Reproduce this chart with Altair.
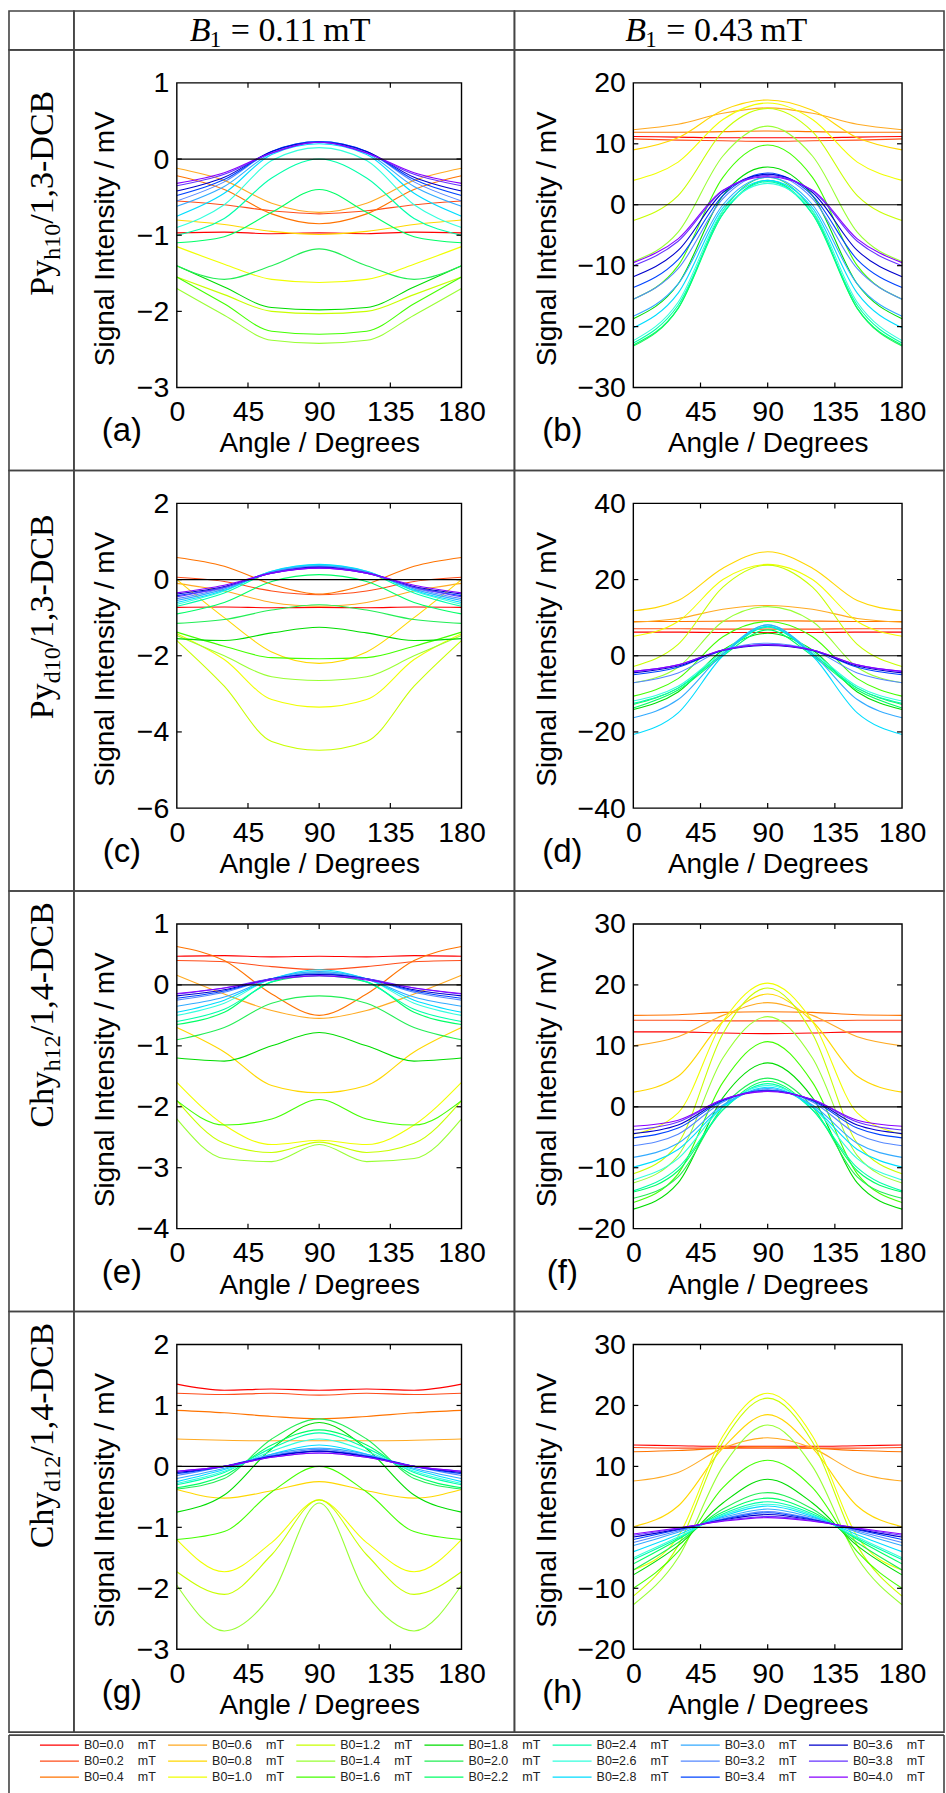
import altair as alt
import pandas as pd

# ---------------- data ----------------
ANGLES = [0, 30, 60, 90, 120, 150, 180]
B0 = ["0.0", "0.2", "0.4", "0.6", "0.8", "1.0", "1.2", "1.4", "1.6", "1.8", "2.0",
      "2.2", "2.4", "2.6", "2.8", "3.0", "3.2", "3.4", "3.6", "3.8", "4.0"]
COLORS = ["#ff0000", "#ff4d1a", "#ff7300", "#ffaa22", "#ffd700", "#f0ff00", "#c8ff00",
          "#99ff33", "#44ff00", "#00dd00", "#22ee55", "#00ff66", "#00ffaa", "#33ffdd",
          "#00ddff", "#33aaff", "#5588ff", "#0044ff", "#0000cc", "#6633ff", "#8800ff"]
XTICKS = [0, 45, 90, 135, 180]

A_VALUES = [
    [-0.97, -0.96, -0.98, -0.97, -0.98, -0.96, -0.97],
    [-0.55, -0.60, -0.68, -0.72, -0.68, -0.60, -0.55],
    [-0.22, -0.40, -0.72, -0.85, -0.72, -0.40, -0.22],
    [-0.12, -0.28, -0.58, -0.70, -0.58, -0.28, -0.12],
    [-0.80, -0.86, -0.95, -0.99, -0.95, -0.86, -0.80],
    [-1.15, -1.38, -1.58, -1.62, -1.58, -1.38, -1.15],
    [-1.55, -1.78, -2.00, -2.03, -2.00, -1.78, -1.55],
    [-1.70, -2.05, -2.38, -2.42, -2.38, -2.05, -1.70],
    [-1.55, -1.90, -2.26, -2.30, -2.26, -1.90, -1.55],
    [-1.40, -1.68, -1.95, -1.98, -1.95, -1.68, -1.40],
    [-1.40, -1.58, -1.40, -1.18, -1.40, -1.58, -1.40],
    [-1.10, -1.02, -0.70, -0.40, -0.70, -1.02, -1.10],
    [-1.00, -0.78, -0.25, 0.00, -0.25, -0.78, -1.00],
    [-0.90, -0.60, -0.02, 0.15, -0.02, -0.60, -0.90],
    [-0.75, -0.45, 0.06, 0.20, 0.06, -0.45, -0.75],
    [-0.62, -0.36, 0.08, 0.22, 0.08, -0.36, -0.62],
    [-0.55, -0.30, 0.10, 0.23, 0.10, -0.30, -0.55],
    [-0.48, -0.27, 0.10, 0.23, 0.10, -0.27, -0.48],
    [-0.42, -0.24, 0.10, 0.22, 0.10, -0.24, -0.42],
    [-0.35, -0.20, 0.08, 0.22, 0.08, -0.20, -0.35],
    [-0.32, -0.18, 0.08, 0.22, 0.08, -0.18, -0.32],
]
B_VALUES = [
    [11.2, 11.1, 11.0, 11.0, 11.0, 11.1, 11.2],
    [10.8, 10.6, 10.5, 10.4, 10.5, 10.6, 10.8],
    [11.9, 11.9, 12.0, 12.1, 12.0, 11.9, 11.9],
    [12.3, 13.2, 15.0, 15.9, 15.0, 13.2, 12.3],
    [9.0, 11.0, 15.5, 17.2, 15.5, 11.0, 9.0],
    [4.0, 7.0, 14.0, 16.7, 14.0, 7.0, 4.0],
    [-2.6, 1.5, 12.0, 15.8, 12.0, 1.5, -2.6],
    [-9.3, -4.5, 8.0, 12.9, 8.0, -4.5, -9.3],
    [-15.5, -10.0, 4.5, 9.8, 4.5, -10.0, -15.5],
    [-18.7, -13.0, 1.5, 6.2, 1.5, -13.0, -18.7],
    [-23.2, -17.0, -1.0, 4.5, -1.0, -17.0, -23.2],
    [-23.0, -17.0, -1.5, 4.0, -1.5, -17.0, -23.0],
    [-22.7, -16.5, -1.5, 3.8, -1.5, -16.5, -22.7],
    [-22.3, -16.0, -1.0, 3.5, -1.0, -16.0, -22.3],
    [-20.2, -14.5, -0.5, 4.0, -0.5, -14.5, -20.2],
    [-18.3, -13.0, 0.0, 4.5, 0.0, -13.0, -18.3],
    [-15.5, -10.5, 1.0, 5.0, 1.0, -10.5, -15.5],
    [-13.6, -9.0, 1.5, 5.2, 1.5, -9.0, -13.6],
    [-11.8, -7.5, 2.0, 5.0, 2.0, -7.5, -11.8],
    [-10.0, -6.0, 2.3, 4.8, 2.3, -6.0, -10.0],
    [-9.5, -5.6, 2.4, 4.6, 2.4, -5.6, -9.5],
]
C_VALUES = [
    [-0.73, -0.72, -0.74, -0.73, -0.74, -0.72, -0.73],
    [0.06, -0.05, -0.30, -0.40, -0.30, -0.05, 0.06],
    [0.58, 0.35, -0.12, -0.38, -0.12, 0.35, 0.58],
    [-0.10, -0.30, -0.60, -0.70, -0.60, -0.30, -0.10],
    [0.00, -1.00, -1.90, -2.20, -1.90, -1.00, 0.00],
    [-1.42, -2.10, -3.15, -3.35, -3.15, -2.10, -1.42],
    [-1.60, -2.80, -4.25, -4.48, -4.25, -2.80, -1.60],
    [-1.47, -2.00, -2.55, -2.65, -2.55, -2.00, -1.47],
    [-1.38, -1.75, -2.05, -2.08, -2.05, -1.75, -1.38],
    [-1.55, -1.60, -1.40, -1.25, -1.40, -1.60, -1.55],
    [-1.15, -1.05, -0.80, -0.66, -0.80, -1.05, -1.15],
    [-0.90, -0.60, -0.05, 0.13, -0.05, -0.60, -0.90],
    [-0.70, -0.35, 0.20, 0.38, 0.20, -0.35, -0.70],
    [-0.65, -0.30, 0.22, 0.38, 0.22, -0.30, -0.65],
    [-0.60, -0.28, 0.22, 0.40, 0.22, -0.28, -0.60],
    [-0.55, -0.25, 0.20, 0.36, 0.20, -0.25, -0.55],
    [-0.50, -0.22, 0.20, 0.35, 0.20, -0.22, -0.50],
    [-0.42, -0.20, 0.18, 0.33, 0.18, -0.20, -0.42],
    [-0.38, -0.18, 0.17, 0.32, 0.17, -0.18, -0.38],
    [-0.45, -0.20, 0.17, 0.30, 0.17, -0.20, -0.45],
    [-0.35, -0.15, 0.17, 0.30, 0.17, -0.15, -0.35],
]
D_VALUES = [
    [6.2, 6.2, 6.1, 6.1, 6.1, 6.2, 6.2],
    [7.1, 7.1, 7.0, 7.0, 7.0, 7.1, 7.1],
    [9.0, 9.0, 9.1, 9.2, 9.1, 9.0, 9.0],
    [8.8, 9.8, 12.2, 13.2, 12.2, 9.8, 8.8],
    [11.8, 14.5, 23.0, 27.3, 23.0, 14.5, 11.8],
    [5.1, 9.0, 20.0, 24.0, 20.0, 9.0, 5.1],
    [-2.8, 3.0, 18.0, 23.8, 18.0, 3.0, -2.8],
    [-7.1, -3.0, 9.0, 12.9, 9.0, -3.0, -7.1],
    [-10.6, -6.0, 5.0, 9.0, 5.0, -6.0, -10.6],
    [-14.1, -9.5, 1.5, 5.9, 1.5, -9.5, -14.1],
    [-12.8, -8.5, 0.5, 7.7, 0.5, -8.5, -12.8],
    [-13.7, -9.0, 0.0, 6.8, 0.0, -9.0, -13.7],
    [-12.5, -8.5, 0.5, 7.5, 0.5, -8.5, -12.5],
    [-11.9, -8.0, 1.0, 8.1, 1.0, -8.0, -11.9],
    [-20.7, -15.0, 0.0, 7.7, 0.0, -15.0, -20.7],
    [-16.3, -11.5, 0.5, 8.1, 0.5, -11.5, -16.3],
    [-7.1, -4.5, 1.5, 3.3, 1.5, -4.5, -7.1],
    [-5.0, -3.0, 1.5, 2.9, 1.5, -3.0, -5.0],
    [-4.5, -2.7, 1.4, 2.7, 1.4, -2.7, -4.5],
    [-4.1, -2.4, 1.5, 2.9, 1.5, -2.4, -4.1],
    [-4.1, -2.4, 1.5, 2.9, 1.5, -2.4, -4.1],
]
E_VALUES = [
    [0.47, 0.48, 0.46, 0.47, 0.46, 0.48, 0.47],
    [0.40, 0.38, 0.30, 0.25, 0.30, 0.38, 0.40],
    [0.63, 0.40, -0.15, -0.50, -0.15, 0.40, 0.63],
    [0.16, -0.15, -0.42, -0.55, -0.42, -0.15, 0.16],
    [-0.70, -1.10, -1.65, -1.77, -1.65, -1.10, -0.70],
    [-1.60, -2.30, -2.62, -2.55, -2.62, -2.30, -1.60],
    [-1.90, -2.60, -2.75, -2.58, -2.75, -2.60, -1.90],
    [-2.20, -2.85, -2.90, -2.62, -2.90, -2.85, -2.20],
    [-1.90, -2.30, -2.20, -1.88, -2.20, -2.30, -1.90],
    [-1.20, -1.25, -1.00, -0.78, -1.00, -1.25, -1.20],
    [-0.90, -0.70, -0.30, -0.18, -0.30, -0.70, -0.90],
    [-0.65, -0.45, 0.05, 0.15, 0.05, -0.45, -0.65],
    [-0.60, -0.40, 0.05, 0.20, 0.05, -0.40, -0.60],
    [-0.50, -0.30, 0.10, 0.22, 0.10, -0.30, -0.50],
    [-0.45, -0.25, 0.10, 0.25, 0.10, -0.25, -0.45],
    [-0.35, -0.20, 0.10, 0.22, 0.10, -0.20, -0.35],
    [-0.25, -0.12, 0.10, 0.20, 0.10, -0.12, -0.25],
    [-0.22, -0.10, 0.10, 0.18, 0.10, -0.10, -0.22],
    [-0.18, -0.08, 0.10, 0.17, 0.10, -0.08, -0.18],
    [-0.15, -0.05, 0.10, 0.15, 0.10, -0.05, -0.15],
    [-0.14, -0.05, 0.08, 0.15, 0.08, -0.05, -0.14],
]
F_VALUES = [
    [12.3, 12.3, 12.1, 12.0, 12.1, 12.3, 12.3],
    [14.2, 14.2, 14.1, 14.1, 14.1, 14.2, 14.2],
    [15.0, 15.1, 15.5, 15.6, 15.5, 15.1, 15.0],
    [10.0, 11.5, 15.0, 17.1, 15.0, 11.5, 10.0],
    [2.4, 5.0, 14.0, 18.5, 14.0, 5.0, 2.4],
    [-4.5, -1.0, 14.0, 20.3, 14.0, -1.0, -4.5],
    [-11.0, -6.0, 12.0, 19.5, 12.0, -6.0, -11.0],
    [-12.5, -8.0, 8.0, 14.8, 8.0, -8.0, -12.5],
    [-15.7, -11.0, 4.0, 10.7, 4.0, -11.0, -15.7],
    [-16.8, -12.5, 1.5, 7.2, 1.5, -12.5, -16.8],
    [-15.0, -11.5, 0.0, 4.7, 0.0, -11.5, -15.0],
    [-14.0, -10.5, -0.5, 4.2, -0.5, -10.5, -14.0],
    [-13.8, -10.0, -0.5, 3.8, -0.5, -10.0, -13.8],
    [-12.0, -8.5, 0.0, 3.5, 0.0, -8.5, -12.0],
    [-9.9, -7.0, 0.0, 3.2, 0.0, -7.0, -9.9],
    [-8.3, -6.0, 0.3, 3.0, 0.3, -6.0, -8.3],
    [-6.4, -4.5, 0.8, 2.8, 0.8, -4.5, -6.4],
    [-5.1, -3.5, 1.0, 2.7, 1.0, -3.5, -5.1],
    [-4.4, -3.0, 1.1, 2.6, 1.1, -3.0, -4.4],
    [-3.8, -2.5, 1.2, 2.6, 1.2, -2.5, -3.8],
    [-3.2, -2.2, 1.2, 2.5, 1.2, -2.2, -3.2],
]
G_VALUES = [
    [1.35, 1.25, 1.27, 1.25, 1.27, 1.25, 1.35],
    [1.20, 1.18, 1.20, 1.17, 1.20, 1.18, 1.20],
    [0.92, 0.88, 0.82, 0.78, 0.82, 0.88, 0.92],
    [0.45, 0.43, 0.42, 0.42, 0.42, 0.43, 0.45],
    [-0.38, -0.52, -0.40, -0.25, -0.40, -0.52, -0.38],
    [-1.20, -1.73, -1.25, -0.55, -1.25, -1.73, -1.20],
    [-1.73, -2.10, -1.45, -0.55, -1.45, -2.10, -1.73],
    [-1.95, -2.70, -2.10, -0.60, -2.10, -2.70, -1.95],
    [-1.20, -1.07, -0.42, 0.00, -0.42, -1.07, -1.20],
    [-0.75, -0.47, 0.29, 0.72, 0.29, -0.47, -0.75],
    [-0.37, -0.20, 0.45, 0.78, 0.45, -0.20, -0.37],
    [-0.35, -0.15, 0.35, 0.60, 0.35, -0.15, -0.35],
    [-0.30, -0.10, 0.30, 0.55, 0.30, -0.10, -0.30],
    [-0.28, -0.08, 0.25, 0.45, 0.25, -0.08, -0.28],
    [-0.25, -0.05, 0.20, 0.35, 0.20, -0.05, -0.25],
    [-0.20, -0.03, 0.20, 0.30, 0.20, -0.03, -0.20],
    [-0.15, 0.00, 0.18, 0.28, 0.18, 0.00, -0.15],
    [-0.12, 0.00, 0.17, 0.25, 0.17, 0.00, -0.12],
    [-0.10, 0.00, 0.16, 0.25, 0.16, 0.00, -0.10],
    [-0.08, 0.00, 0.15, 0.22, 0.15, 0.00, -0.08],
    [-0.08, 0.00, 0.15, 0.22, 0.15, 0.00, -0.08],
]
H_VALUES = [
    [13.5, 13.4, 13.3, 13.3, 13.3, 13.4, 13.5],
    [13.1, 13.0, 13.0, 13.0, 13.0, 13.0, 13.1],
    [12.4, 12.6, 13.0, 13.2, 13.0, 12.6, 12.4],
    [7.6, 9.0, 13.0, 14.7, 13.0, 9.0, 7.6],
    [0.1, 3.5, 13.0, 18.5, 13.0, 3.5, 0.1],
    [-7.0, -1.5, 15.0, 22.0, 15.0, -1.5, -7.0],
    [-11.3, -3.0, 14.0, 21.2, 14.0, -3.0, -11.3],
    [-12.7, -5.0, 10.0, 16.8, 10.0, -5.0, -12.7],
    [-10.0, -4.0, 6.5, 11.0, 6.5, -4.0, -10.0],
    [-7.8, -3.0, 4.0, 7.9, 4.0, -3.0, -7.8],
    [-7.0, -2.5, 3.0, 5.7, 3.0, -2.5, -7.0],
    [-6.0, -2.0, 2.5, 4.8, 2.5, -2.0, -6.0],
    [-5.3, -1.8, 2.2, 4.2, 2.2, -1.8, -5.3],
    [-5.0, -1.6, 2.0, 3.8, 2.0, -1.6, -5.0],
    [-4.0, -1.2, 1.8, 3.5, 1.8, -1.2, -4.0],
    [-3.0, -0.8, 1.6, 3.0, 1.6, -0.8, -3.0],
    [-2.5, -0.6, 1.4, 2.6, 1.4, -0.6, -2.5],
    [-2.0, -0.4, 1.3, 2.4, 1.3, -0.4, -2.0],
    [-1.6, -0.3, 1.2, 2.1, 1.2, -0.3, -1.6],
    [-1.3, -0.2, 1.1, 1.8, 1.1, -0.2, -1.3],
    [-1.1, -0.1, 1.0, 1.6, 1.0, -0.1, -1.1],
]

A_TICKS = [-3, -2, -1, 0, 1]
B_TICKS = [-30, -20, -10, 0, 10, 20]
C_TICKS = [-6, -4, -2, 0, 2]
D_TICKS = [-40, -20, 0, 20, 40]
E_TICKS = [-4, -3, -2, -1, 0, 1]
F_TICKS = [-20, -10, 0, 10, 20, 30]
G_TICKS = [-3, -2, -1, 0, 1, 2]
H_TICKS = [-20, -10, 0, 10, 20, 30]

PANEL_LETTERS = ["a", "b", "c", "d", "e", "f", "g", "h"]
PANEL_VALUES = [A_VALUES, B_VALUES, C_VALUES, D_VALUES, E_VALUES, F_VALUES, G_VALUES, H_VALUES]
PANEL_TICKS = [A_TICKS, B_TICKS, C_TICKS, D_TICKS, E_TICKS, F_TICKS, G_TICKS, H_TICKS]

ROW_LABELS = [
    [("Py", 0), ("h10", 1), ("/1,3-DCB", 0)],
    [("Py", 0), ("d10", 1), ("/1,3-DCB", 0)],
    [("Chy", 0), ("h12", 1), ("/1,4-DCB", 0)],
    [("Chy", 0), ("d12", 1), ("/1,4-DCB", 0)],
]
HEADER_B1 = ["0.11", "0.43"]

# ---------------- layout ----------------
CELL_H = 421
HEAD_H = 39
LABEL_W = 65
COL_W = [441, 430]
PLOT_X = [[103, 388], [119, 388]]
PLOT_Y = [338, 33]
YTITLE_X = [-57, -72]
ROW_LABEL_BOTTOM = [246, 249, 237, 237]
LEGEND_W = 936
LEGEND_H = 61
SANS = "Liberation Sans"
SERIF = "Liberation Serif"
GRID_COLOR = "#444444"

# Times-like advance widths (em) for the serif row labels
CHAR_W = {"P": .556, "y": .5, "C": .667, "h": .5, "d": .5, "0": .5, "1": .5, "2": .5,
          "3": .5, "4": .5, "/": .278, ",": .25, "-": .333, "D": .722, "B": .667}


def one(text):
    return pd.DataFrame({"t": [text]})


def panel_chart(idx, col):
    vals = PANEL_VALUES[idx]
    ticks = PANEL_TICKS[idx]
    y0, y1 = ticks[0], ticks[-1]
    xr = PLOT_X[col]
    rows = []
    for b, series in zip(B0, vals):
        for a, v in zip(ANGLES, series):
            rows.append({"angle": a, "v": v, "b0": b})
    df = pd.DataFrame(rows)
    xs = alt.Scale(domain=[0, 180], range=xr, nice=False, zero=False)
    ys = alt.Scale(domain=[y0, y1], range=PLOT_Y, nice=False, zero=False)
    xaxis = alt.Axis(values=XTICKS, title="Angle / Degrees", offset=PLOT_Y[0] - CELL_H,
                     labelPadding=10, titlePadding=4, labelFlush=False, labelOverlap=False)
    yaxis = alt.Axis(values=ticks, title="Signal Intensity / mV", offset=-xr[0],
                     labelPadding=8, labelFlush=False, labelOverlap=False,
                     titleX=YTITLE_X[col], titleY=(PLOT_Y[0] + PLOT_Y[1]) / 2 + 3,
                     titleBaseline="bottom", titleAlign="center", titleAngle=270)

    def X(f):
        return alt.X(f, scale=xs, axis=xaxis)

    def Y(f):
        return alt.Y(f, scale=ys, axis=yaxis)

    curves = alt.Chart(df).mark_line(strokeWidth=1.1, interpolate="monotone").encode(
        x=X("angle:Q"), y=Y("v:Q"),
        color=alt.Color("b0:N", scale=alt.Scale(domain=B0, range=COLORS), legend=None),
    )
    zero = alt.Chart(pd.DataFrame({"angle": [0], "x2": [180], "v": [0]})).mark_rule(
        color="black", strokeWidth=1.2).encode(x=X("angle:Q"), x2="x2:Q", y=Y("v:Q"))
    box = alt.Chart(pd.DataFrame({"angle": [0], "x2": [180], "v": [y0], "y2": [y1]})).mark_rect(
        fillOpacity=0, stroke="black", strokeWidth=1.4).encode(
        x=X("angle:Q"), x2="x2:Q", y=Y("v:Q"), y2="y2:Q")
    ly = (y1 - y0) * 5.0 / (PLOT_Y[0] - PLOT_Y[1])
    lx = 180 * 5.0 / (xr[1] - xr[0])
    trows = []
    for t in XTICKS[1:-1]:
        trows.append({"angle": t, "x2": t, "v": y0, "y2": y0 + ly})
        trows.append({"angle": t, "x2": t, "v": y1, "y2": y1 - ly})
    for t in ticks[1:-1]:
        trows.append({"angle": 0, "x2": lx, "v": t, "y2": t})
        trows.append({"angle": 180, "x2": 180 - lx, "v": t, "y2": t})
    tk = alt.Chart(pd.DataFrame(trows)).mark_rule(color="black", strokeWidth=1.2).encode(
        x=X("angle:Q"), x2="x2:Q", y=Y("v:Q"), y2="y2:Q")
    lab = alt.Chart(one("(" + PANEL_LETTERS[idx] + ")")).mark_text(
        font=SANS, fontSize=33, align="center", baseline="alphabetic", color="black").encode(
        x=alt.value(48), y=alt.value(392), text="t:N")
    return alt.layer(curves, zero, box, tk, lab).properties(width=COL_W[col], height=CELL_H)


def label_chart(segments, bottom):
    layers = []
    y = bottom
    for text, sub in segments:
        size = 24 if sub else 34
        xpos = 51 if sub else 44
        layers.append(alt.Chart(one(text)).mark_text(
            angle=270, align="left", baseline="alphabetic", font=SERIF,
            fontSize=size, color="black").encode(
            x=alt.value(xpos), y=alt.value(y), text="t:N"))
        y -= sum(CHAR_W.get(c, .5) for c in text) * size
    return alt.layer(*layers).properties(width=LABEL_W, height=CELL_H)


def header_chart(value, col, x0):
    parts = [
        alt.Chart(one("B")).mark_text(font=SERIF, fontSize=34, fontStyle="italic", align="left",
                                      baseline="alphabetic", color="black").encode(
            x=alt.value(x0), y=alt.value(30), text="t:N"),
        alt.Chart(one("1")).mark_text(font=SERIF, fontSize=23, align="left",
                                      baseline="alphabetic", color="black").encode(
            x=alt.value(x0 + 20), y=alt.value(36), text="t:N"),
        alt.Chart(one("= " + value + "\u2009mT")).mark_text(
            font=SERIF, fontSize=34, align="left", baseline="alphabetic", color="black").encode(
            x=alt.value(x0 + 41), y=alt.value(30), text="t:N"),
    ]
    return alt.layer(*parts).properties(width=COL_W[col], height=HEAD_H)


empty_head = alt.Chart(one(" ")).mark_text().encode(
    x=alt.value(5), y=alt.value(5), text="t:N").properties(width=LABEL_W, height=HEAD_H)

cells = [empty_head, header_chart(HEADER_B1[0], 0, 116), header_chart(HEADER_B1[1], 1, 111)]
for r in range(4):
    cells += [label_chart(ROW_LABELS[r], ROW_LABEL_BOTTOM[r]),
              panel_chart(2 * r, 0), panel_chart(2 * r + 1, 1)]

grid = alt.concat(*cells, columns=3, spacing=0, bounds="flush", align="each")

# legend (column-major, 3 rows x 7 columns)
leg_df = pd.DataFrame({
    "b0": B0,
    "label": ["B0=" + b for b in B0],
    "col": [i // 3 for i in range(len(B0))],
    "row": [i % 3 for i in range(len(B0))],
})
lxs = alt.Scale(domain=[0, 7], range=[31, 31 + 7 * 128.3])
lys = alt.Scale(domain=[0, 2], range=[10, 42])
leg_lines = alt.Chart(leg_df).transform_calculate(colEnd="datum.col + 0.304").mark_rule(
    strokeWidth=1.3).encode(
    x=alt.X("col:Q", scale=lxs, axis=None), x2="colEnd:Q",
    y=alt.Y("row:Q", scale=lys, axis=None),
    color=alt.Color("b0:N", scale=alt.Scale(domain=B0, range=COLORS), legend=None))
leg_text = alt.Chart(leg_df).mark_text(align="left", dx=44, font=SANS, fontSize=12.5,
                                       color="#222222").encode(
    x=alt.X("col:Q", scale=lxs, axis=None), y=alt.Y("row:Q", scale=lys, axis=None),
    text="label:N")
leg_unit = alt.Chart(leg_df).mark_text(align="left", dx=98, font=SANS, fontSize=12.5,
                                       color="#222222").encode(
    x=alt.X("col:Q", scale=lxs, axis=None), y=alt.Y("row:Q", scale=lys, axis=None),
    text=alt.value("mT"))
# the legend box is open at the bottom (cut by the page edge): draw its sides only
side_left = alt.Chart(one("")).mark_rule(color=GRID_COLOR, strokeWidth=1.6).encode(
    x=alt.value(0), y=alt.value(0), y2=alt.value(LEGEND_H))
side_right = alt.Chart(one("")).mark_rule(color=GRID_COLOR, strokeWidth=1.6).encode(
    x=alt.value(LEGEND_W), y=alt.value(0), y2=alt.value(LEGEND_H))
side_top = alt.Chart(one("")).mark_rule(color=GRID_COLOR, strokeWidth=1.6).encode(
    x=alt.value(0), x2=alt.value(LEGEND_W), y=alt.value(0))
legend = alt.layer(side_left, side_right, side_top, leg_lines, leg_text, leg_unit).properties(
    width=LEGEND_W, height=LEGEND_H, view=alt.ViewConfig(stroke="transparent"))

chart = alt.vconcat(grid, legend, spacing=0).properties(
    padding={"left": 7, "top": 8, "right": 0, "bottom": 0}
).configure_view(
    stroke=GRID_COLOR, strokeWidth=1.6
).configure_axis(
    domain=False, ticks=False, grid=False, labelFont=SANS, titleFont=SANS,
    labelFontSize=28.5, titleFontSize=28, titleFontWeight="normal",
    labelColor="black", titleColor="black"
)

chart.save("out.html", embed_options={"renderer": "svg", "actions": False})
